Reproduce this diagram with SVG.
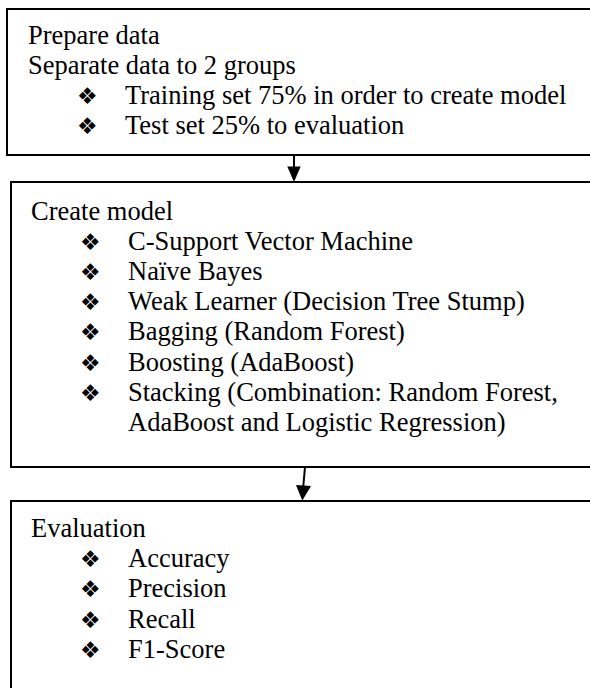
<svg xmlns="http://www.w3.org/2000/svg" width="590" height="688" viewBox="0 0 590 688">
<style>
.box{fill:#fff;stroke:#000;stroke-width:2}
.t{font-family:"Liberation Serif","Times New Roman",serif;font-size:26.5px;fill:#000}
.b{font-family:"DejaVu Sans",sans-serif;font-size:23px;fill:#000}
.ln{stroke:#000;stroke-width:2;fill:none}
</style>
<rect width="590" height="688" fill="#fff"/>
<g id="prepare">
<rect class="box" x="7" y="9" width="600" height="146"/>
<text class="t" x="28" y="44">Prepare data</text>
<text class="t" x="28" y="74">Separate data to 2 groups</text>
<text class="b" x="77" y="104">❖</text>
<text class="t" x="125" y="104">Training set 75% in order to create model</text>
<text class="b" x="77" y="134">❖</text>
<text class="t" x="125" y="134">Test set 25% to evaluation</text>
</g>
<g id="create">
<rect class="box" x="11" y="182" width="600" height="285"/>
<text class="t" x="31" y="220">Create model</text>
<text class="b" x="80" y="250">❖</text>
<text class="t" x="128" y="250">C-Support Vector Machine</text>
<text class="b" x="80" y="280">❖</text>
<text class="t" x="128" y="280">Naïve Bayes</text>
<text class="b" x="80" y="310">❖</text>
<text class="t" x="128" y="310">Weak Learner (Decision Tree Stump)</text>
<text class="b" x="80" y="340">❖</text>
<text class="t" x="128" y="340">Bagging (Random Forest)</text>
<text class="b" x="80" y="371">❖</text>
<text class="t" x="128" y="371">Boosting (AdaBoost)</text>
<text class="b" x="80" y="401">❖</text>
<text class="t" x="128" y="401">Stacking (Combination: Random Forest,</text>
<text class="t" x="128" y="431">AdaBoost and Logistic Regression)</text>
</g>
<g id="evaluation">
<rect class="box" x="11" y="501" width="600" height="200"/>
<text class="t" x="31" y="537">Evaluation</text>
<text class="b" x="80" y="567">❖</text>
<text class="t" x="128" y="567">Accuracy</text>
<text class="b" x="80" y="597">❖</text>
<text class="t" x="128" y="597">Precision</text>
<text class="b" x="80" y="628">❖</text>
<text class="t" x="128" y="628">Recall</text>
<text class="b" x="80" y="658">❖</text>
<text class="t" x="128" y="658">F1-Score</text>
</g>
<g id="connectors">
<line class="ln" x1="294" y1="156" x2="294" y2="168"/>
<polygon points="287.3,166.5 300.7,166.5 294,182"/>
<line class="ln" x1="305" y1="467" x2="303.3" y2="486"/>
<polygon points="296,485 311,486 302.3,500.5"/>
</g>
</svg>
